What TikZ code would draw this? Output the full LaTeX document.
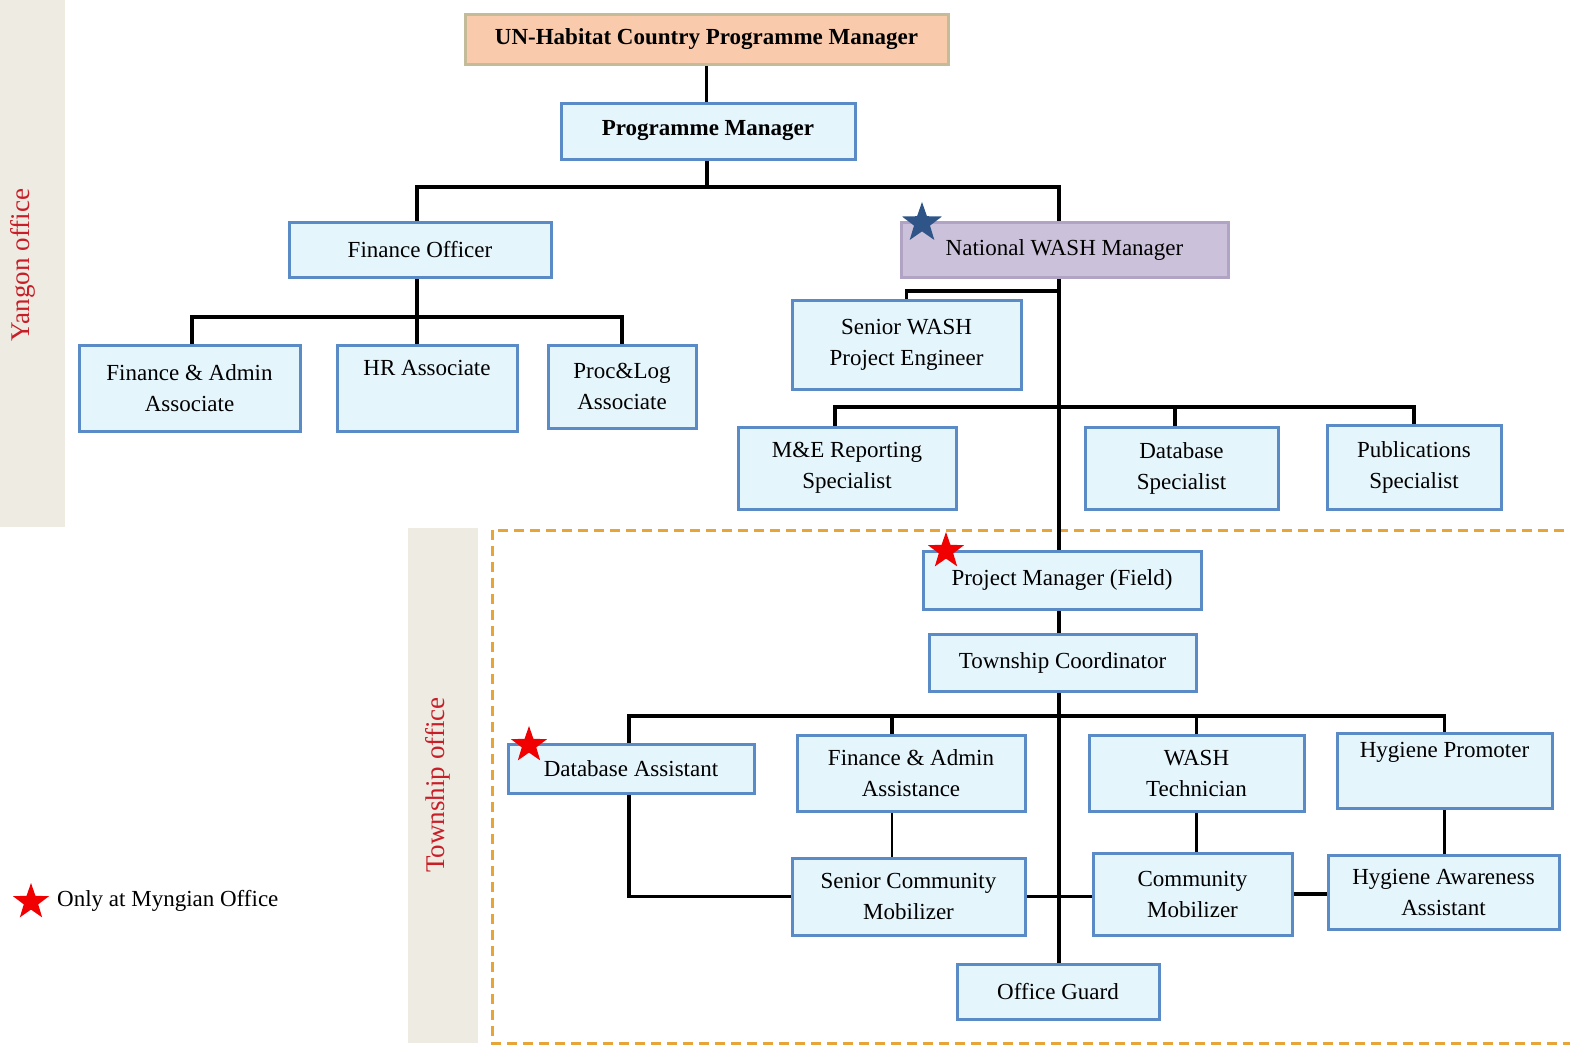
\documentclass[tikz,border=0pt]{standalone}
\usepackage{fontspec}
\setmainfont{Liberation Serif}
\usetikzlibrary{shapes.geometric}
\pgfdeclarelayer{background}
\pgfsetlayers{background,main}
\definecolor{boxfill}{RGB}{229,245,252}
\definecolor{boxline}{RGB}{91,139,198}
\definecolor{unfill}{RGB}{249,203,172}
\definecolor{unline}{RGB}{196,187,152}
\definecolor{nwfill}{RGB}{204,193,218}
\definecolor{nwline}{RGB}{176,163,196}
\definecolor{bandgray}{RGB}{238,235,226}
\definecolor{bandred}{RGB}{200,30,40}
\definecolor{dashorange}{RGB}{232,165,55}
\definecolor{starblue}{RGB}{47,84,136}
\definecolor{starred}{RGB}{240,0,0}
\begin{document}
\begin{tikzpicture}[x=1pt,y=-1pt,
  box/.style={draw=boxline, fill=boxfill, line width=3pt, inner sep=0pt, align=center,
    font=\fontsize{23}{31}\selectfont, text=black},
  unbox/.style={box, draw=unline, fill=unfill},
  nwbox/.style={box, draw=nwline, fill=nwfill},
  conn/.style={line width=3.2pt, black},
  thinconn/.style={line width=2.4pt, black},
  band/.style={fill=bandgray, draw=none},
  bandlabel/.style={rotate=90, text=bandred, font=\fontsize{27}{30}\selectfont},
  mystar/.style={star, star points=5, star point ratio=2.5, inner sep=0pt, draw=none},
  zone/.style={draw=dashorange, line width=3pt, dash pattern=on 10pt off 6pt}]
\useasboundingbox (0,0) rectangle (1570,1047);

% nodes
\node[unbox, minimum width=483pt, minimum height=50pt] (un) at (706.5,39) {\textbf{UN-Habitat Country Programme Manager}};
\node[box, minimum width=294pt, minimum height=56pt] (pm) at (708,131) {\textbf{Programme Manager}};
\node[box, minimum width=262pt, minimum height=55pt] (fo) at (420,249.5) {Finance Officer};
\node[nwbox, minimum width=327pt, minimum height=55pt] (nwm) at (1064.5,249.5) {National WASH Manager};
\node[box, minimum width=229pt, minimum height=89pt] (swe) at (906.5,344.5) {Senior WASH\\Project Engineer};
\node[box, minimum width=221pt, minimum height=86pt] (faa) at (189.5,388) {Finance \& Admin\\Associate};
\node[box, minimum width=180pt, minimum height=86pt] (hr) at (427,388) {HR Associate\\\strut};
\node[box, minimum width=148pt, minimum height=83pt] (pl) at (622,386.5) {Proc\&Log\\Associate};
\node[box, minimum width=218pt, minimum height=82pt] (me) at (847,468) {M\&E Reporting\\Specialist};
\node[box, minimum width=193pt, minimum height=82pt] (dbs) at (1181.5,468) {Database\\Specialist};
\node[box, minimum width=174pt, minimum height=84pt] (pub) at (1414,467) {Publications\\Specialist};
\node[box, minimum width=278pt, minimum height=58pt] (pmf) at (1062,580) {Project Manager (Field)};
\node[box, minimum width=267pt, minimum height=57pt] (tc) at (1062.5,662.5) {Township Coordinator};
\node[box, minimum width=246pt, minimum height=49pt] (da) at (631,768.5) {Database Assistant};
\node[box, minimum width=228pt, minimum height=76pt] (fad) at (911,773) {Finance \& Admin\\Assistance};
\node[box, minimum width=215pt, minimum height=76pt] (wt) at (1196.5,773) {WASH\\Technician};
\node[box, minimum width=215pt, minimum height=75pt] (hp) at (1444.5,770.5) {Hygiene Promoter\\\strut};
\node[box, minimum width=233pt, minimum height=77pt] (scm) at (908.5,896.5) {Senior Community\\Mobilizer};
\node[box, minimum width=199pt, minimum height=82pt] (cm) at (1192.5,894) {Community\\Mobilizer};
\node[box, minimum width=231pt, minimum height=74pt] (haa) at (1443.5,892) {Hygiene Awareness\\Assistant};
\node[box, minimum width=202pt, minimum height=55pt] (og) at (1058,991.5) {Office Guard};

% band labels
\node[bandlabel] (yl) at (23,265) {Yangon office};
\node[bandlabel] (tl) at (438,785) {Township office};

% stars
\node[mystar, fill=starblue, minimum size=42pt] (s1) at (922,223) {};
\node[mystar, fill=starred, minimum size=38pt] (s2) at (946,551) {};
\node[mystar, fill=starred, minimum size=38pt] (s3) at (529,745) {};
\node[mystar, fill=starred, minimum size=38pt] (s4) at (31,902) {};
\node[anchor=west, font=\fontsize{23}{26}\selectfont, inner sep=0pt] (leg) at (57,901) {Only at Myngian Office};

% junction coordinates
\coordinate (busA) at (707,187);
\coordinate (trunk) at (1059,187);
\coordinate (busB) at (417,317);
\coordinate (busC) at (1059,291);
\coordinate (busD) at (1059,407);
\coordinate (busDl) at (835,407);
\coordinate (busE) at (1059,716);
\coordinate (busEf) at (892,716);

\begin{pgfonlayer}{background}
  \fill[band] (0,0) rectangle (65,527);
  \fill[band] (408,528) rectangle (478,1043);
  \draw[zone] (1580,530) -- (492,530) -- (492,1043) -- (1580,1043);

  \draw[conn] (un.south) -- (un.south |- pm.north);
  \draw[conn] (busA |- pm.south) -- (busA);
  \draw[conn] (busB |- fo.north) |- (trunk) -- (trunk |- pmf.north);
  \draw[conn] (busB |- fo.south) -- (busB);
  \draw[conn] (faa.north -| 192,0) |- (busB) -| (pl.north);
  \draw[conn] (busB) -- (busB |- hr.north);
  \draw[conn] (busC) -| (swe.north);
  \draw[conn] (busDl |- me.north) |- (busD) -| (pub.north);
  \draw[conn] (dbs.north -| 1175,0) -- (busD -| 1175,0);
  \draw[conn] (pmf.south -| trunk) -- (tc.north -| trunk);
  \draw[conn] (tc.south -| trunk) -- (og.north -| trunk);
  \draw[conn] (da.north -| 629,0) |- (busE) -| (hp.north);
  \draw[conn] (busEf) -- (busEf |- fad.north);
  \draw[conn] (busE -| wt.north) -- (wt.north);
  \draw[conn] (da.south -| 629,0) |- (scm.west);
  \draw[thinconn] (busEf |- fad.south) -- (busEf |- scm.north);
  \draw[thinconn] (wt.south) -- (wt.south |- cm.north);
  \draw[thinconn] (hp.south) -- (hp.south |- haa.north);
  \draw[conn] (scm.east) -- (scm.east -| cm.west);
  \draw[conn] (cm.east) -- (cm.east -| haa.west);
\end{pgfonlayer}
\end{tikzpicture}
\end{document}
